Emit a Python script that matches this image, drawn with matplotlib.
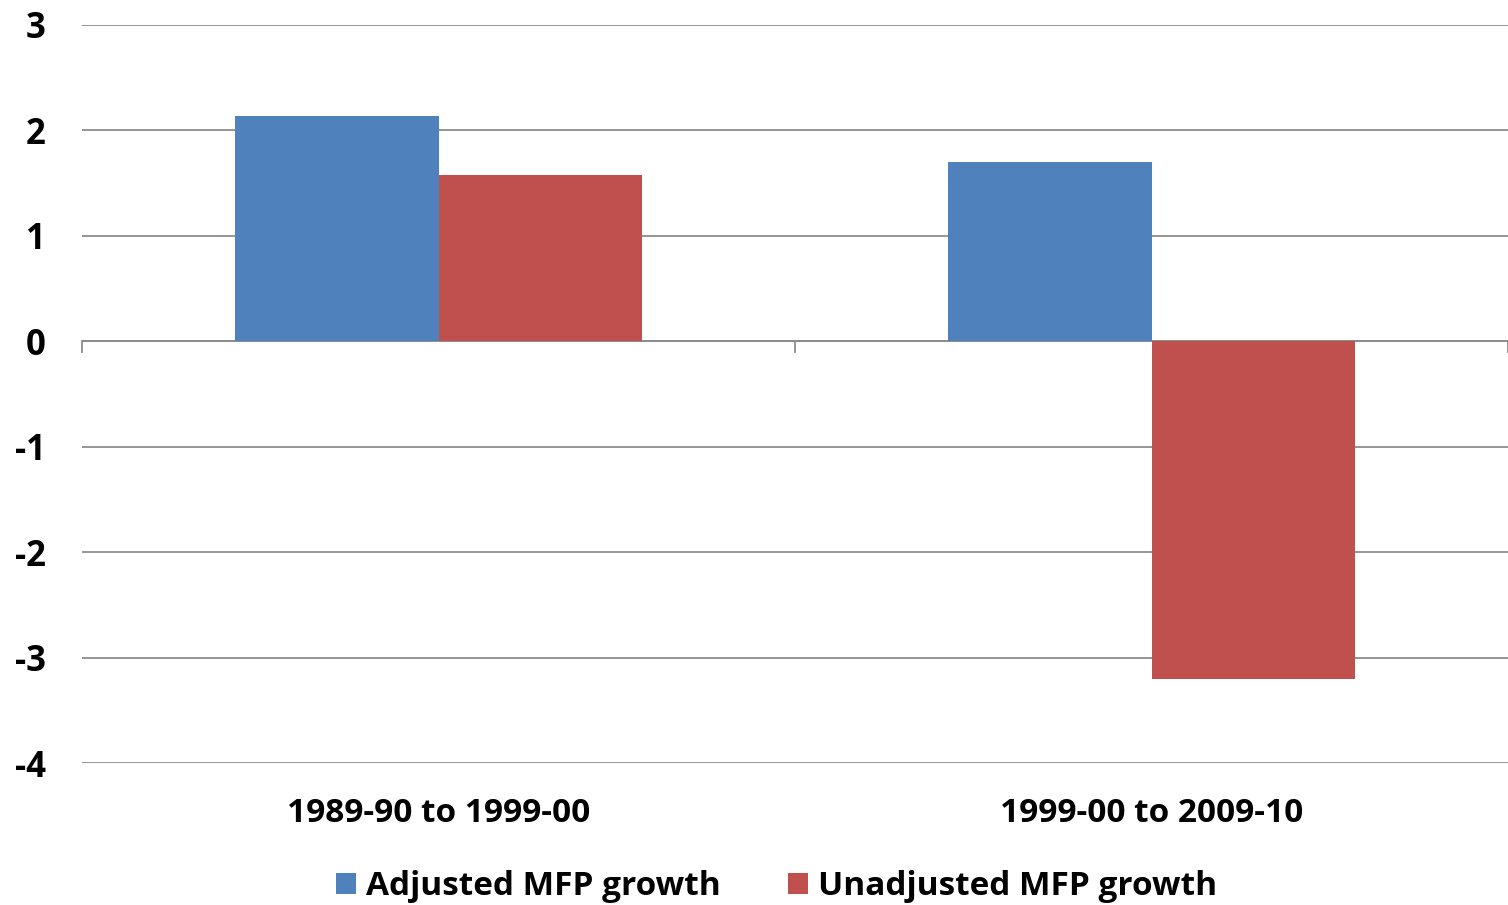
import matplotlib.pyplot as plt
import numpy as np
from matplotlib import font_manager

periods = ["1989-90 to 1999-00", "1999-00 to 2009-10"]
adjusted = [2.14, 1.70]
unadjusted = [1.58, -3.20]
y_ticks = [3, 2, 1, 0, -1, -2, -3, -4]

# Condensed bold face, close to the usual spreadsheet default
available = {f.name for f in font_manager.fontManager.ttflist}
family = "Liberation Sans Narrow" if "Liberation Sans Narrow" in available else "Open Sans"
plt.rcParams["font.family"] = [family, "DejaVu Sans"]
plt.rcParams["font.weight"] = "bold"

fig = plt.figure(figsize=(15.08, 9.05), dpi=100)
ax = fig.add_axes([0.0544, 0.1569, 0.9456, 0.8155])

x = np.arange(len(periods))
width = 0.286
ax.bar(x - width / 2, adjusted, width, color="#4F81BD", label="Adjusted MFP growth", zorder=3)
ax.bar(x + width / 2, unadjusted, width, color="#C0504D", label="Unadjusted MFP growth", zorder=3)

ax.set_xlim(-0.5, 1.5)
ax.set_ylim(-4, 3)
ax.set_yticks(y_ticks)
ax.set_yticklabels([str(v) for v in y_ticks], fontsize=25, fontweight="bold")
ax.tick_params(axis="y", length=0, pad=26)
for lbl in ax.get_yticklabels():
    lbl.set_horizontalalignment("right")

ax.grid(axis="y", color="#8c8c8c", linewidth=1.3, zorder=0)
for s in ax.spines.values():
    s.set_visible(False)

# Category axis sits on zero with small tick marks between groups
ax.axhline(0, color="#8c8c8c", linewidth=1.3, zorder=2)
for xb in [-0.5, 0.5, 1.5]:
    ax.plot([xb, xb], [0, -0.1], color="#8c8c8c", linewidth=1.3, clip_on=False, zorder=2)
ax.set_xticks([])
for xi, name in zip(x, periods):
    ax.text(xi, -4.48, name, ha="center", va="center", fontsize=24, fontweight="bold")

ax.legend(loc="center", bbox_to_anchor=(0.487, -0.168), ncol=2, frameon=False,
          handlelength=0.6, handleheight=0.6, handletextpad=0.3,
          columnspacing=2.0, prop={"size": 24, "weight": "bold"})

fig.savefig("out.png", dpi=100)
